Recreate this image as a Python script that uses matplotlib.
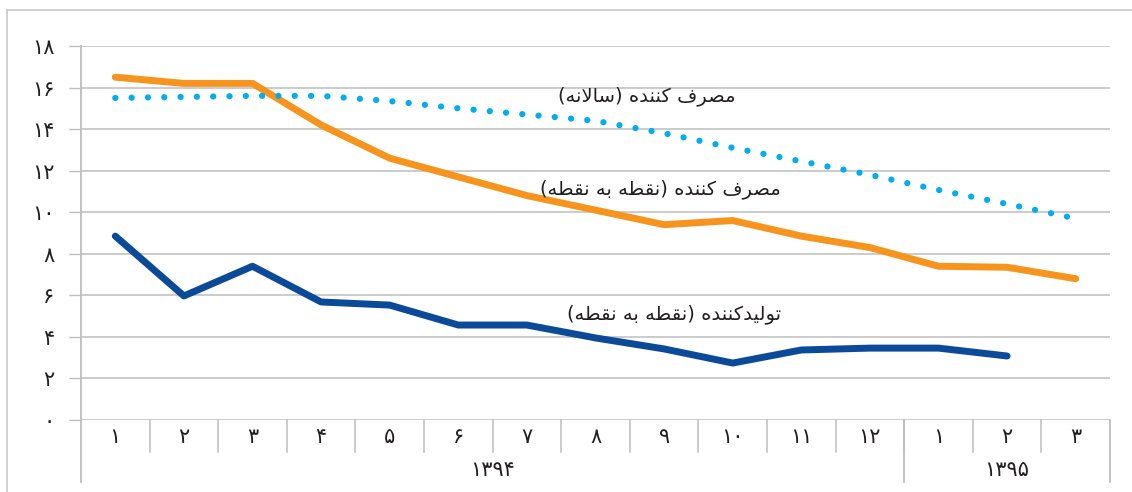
import matplotlib
matplotlib.use("Agg")
import matplotlib.pyplot as plt
from matplotlib.lines import Line2D
import numpy as np

# ---------------- data ----------------
month_labels = ["۱", "۲", "۳", "۴", "۵", "۶", "۷", "۸", "۹", "۱۰", "۱۱", "۱۲", "۱", "۲", "۳"]
year_labels = ["۱۳۹۴", "۱۳۹۵"]
year_sizes = [12, 3]
y_ticks = [0, 2, 4, 6, 8, 10, 12, 14, 16, 18]
y_tick_labels = ["۰", "۲", "۴", "۶", "۸", "۱۰", "۱۲", "۱۴", "۱۶", "۱۸"]

consumer_p2p = [16.5, 16.2, 16.2, 14.2, 12.6, 11.7, 10.8, 10.1, 9.4, 9.6, 8.85, 8.3, 7.4, 7.35, 6.8]
consumer_annual = [15.5, 15.55, 15.6, 15.6, 15.35, 15.0, 14.7, 14.4, 13.8, 13.1, 12.45, 11.8, 11.07, 10.4, 9.7]
producer_p2p = [8.85, 5.97, 7.4, 5.68, 5.53, 4.57, 4.57, 3.95, 3.42, 2.74, 3.37, 3.46, 3.46, 3.08]

label_annual = "مصرف کننده (سالانه)"
label_cons = "مصرف کننده (نقطه به نقطه)"
label_prod = "تولیدکننده (نقطه به نقطه)"

# ---------------- minimal Persian shaping ----------------
FORMS = {
    'ا': ('\uFE8D', '\uFE8E', None, None),
    'ب': ('\uFE8F', '\uFE90', '\uFE91', '\uFE92'),
    'ت': ('\uFE95', '\uFE96', '\uFE97', '\uFE98'),
    'د': ('\uFEA9', '\uFEAA', None, None),
    'ر': ('\uFEAD', '\uFEAE', None, None),
    'س': ('\uFEB1', '\uFEB2', '\uFEB3', '\uFEB4'),
    'ص': ('\uFEB9', '\uFEBA', '\uFEBB', '\uFEBC'),
    'ط': ('\uFEC1', '\uFEC2', '\uFEC3', '\uFEC4'),
    'ف': ('\uFED1', '\uFED2', '\uFED3', '\uFED4'),
    'ق': ('\uFED5', '\uFED6', '\uFED7', '\uFED8'),
    'ک': ('\uFB8E', '\uFB8F', '\uFB90', '\uFB91'),
    'ل': ('\uFEDD', '\uFEDE', '\uFEDF', '\uFEE0'),
    'م': ('\uFEE1', '\uFEE2', '\uFEE3', '\uFEE4'),
    'ن': ('\uFEE5', '\uFEE6', '\uFEE7', '\uFEE8'),
    'ه': ('\uFEE9', '\uFEEA', '\uFEEB', '\uFEEC'),
    'و': ('\uFEED', '\uFEEE', None, None),
    'ی': ('\uFBFC', '\uFBFD', '\uFBFE', '\uFBFF'),
}


def shape(text):
    toks = []
    i = 0
    while i < len(text):
        if text[i] == 'ل' and i + 1 < len(text) and text[i + 1] == 'ا':
            toks.append('LA')
            i += 2
        else:
            toks.append(text[i])
            i += 1

    def is_letter(t):
        return t == 'LA' or t in FORMS

    def dual(t):
        return t in FORMS and FORMS[t][2] is not None

    out = []
    for k, t in enumerate(toks):
        prev = toks[k - 1] if k > 0 else None
        nxt = toks[k + 1] if k + 1 < len(toks) else None
        jp = prev is not None and dual(prev)
        if t == 'LA':
            out.append('\uFEFC' if jp else '\uFEFB')
            continue
        if t not in FORMS:
            out.append(t)
            continue
        jn = dual(t) and nxt is not None and is_letter(nxt)
        iso, fin, ini, med = FORMS[t]
        if jp and jn:
            out.append(med)
        elif jp:
            out.append(fin)
        elif jn:
            out.append(ini)
        else:
            out.append(iso)
    vis = ''.join(out)[::-1]
    mirror = {'(': ')', ')': '('}
    return ''.join(mirror.get(c, c) for c in vis)


# ---------------- figure ----------------
W, H = 1132, 492
fig = plt.figure(figsize=(W / 100, H / 100), dpi=100)
fig.patch.set_facecolor("white")

L, R, T, B = 81, 1110, 46, 420
ax = fig.add_axes([L / W, 1 - B / H, (R - L) / W, (B - T) / H])

grid_c = "#BDBDBD"
txt_c = "#231F20"
x = np.arange(len(month_labels))

ax.plot(x, consumer_p2p, color="#F7941D", lw=5.0, solid_capstyle="round", solid_joinstyle="round", zorder=3)
ax.plot(x, consumer_annual, color="#00AEEF", lw=4.5, linestyle=(0, (0.01, 2.6)),
        dash_capstyle="round", zorder=3)
ax.plot(np.arange(len(producer_p2p)), producer_p2p, color="#0B4A99", lw=5.0,
        solid_capstyle="round", solid_joinstyle="round", zorder=3)

ax.set_xlim(-0.5, len(month_labels) - 0.5)
ax.set_ylim(0, 18)
ax.set_yticks(y_ticks)
ax.set_yticklabels(y_tick_labels, fontsize=15, family=["DejaVu Sans"], color=txt_c)
ax.tick_params(axis="y", length=9, width=1, color=grid_c, pad=10, direction="out")
ax.set_xticks([])
ax.grid(axis="y", color=grid_c, lw=1.1)
ax.set_axisbelow(True)
for s in ["top", "right", "bottom"]:
    ax.spines[s].set_visible(False)
ax.spines["left"].set_color(grid_c)
ax.spines["left"].set_linewidth(1.3)

# two-level category axis
trans = ax.get_xaxis_transform()
short_h = (452 - B) / (B - T)
long_h = (482 - B) / (B - T)
for i, lab in enumerate(month_labels):
    ax.text(i, -(437 - B) / (B - T), lab, transform=trans, ha="center", va="center",
            fontsize=15, color=txt_c, family=["DejaVu Sans"])
bounds = np.cumsum([0] + year_sizes) - 0.5
for i in range(1, len(month_labels)):
    ax.add_line(Line2D([i - 0.5, i - 0.5], [0, -short_h], transform=trans, color=grid_c,
                       lw=1.1, clip_on=False))
for b in bounds:
    ax.add_line(Line2D([b, b], [0, -long_h], transform=trans, color=grid_c,
                       lw=1.3, clip_on=False))
start = 0
for lab, n in zip(year_labels, year_sizes):
    cx = start + (n - 1) / 2
    ax.text(cx, -(470 - B) / (B - T), lab, transform=trans, ha="center", va="center",
            fontsize=15, color=txt_c, family=["DejaVu Sans"])
    start += n

# series labels
ax.text(7.75, 15.6, shape(label_annual), ha="center", va="center", fontsize=14,
        color=txt_c, family=["DejaVu Sans"])
ax.text(7.95, 11.13, shape(label_cons), ha="center", va="center", fontsize=14,
        color=txt_c, family=["DejaVu Sans"])
ax.text(8.15, 5.1, shape(label_prod), ha="center", va="center", fontsize=14,
        color=txt_c, family=["DejaVu Sans"])

# outer chart frame (partial)
fig.add_artist(Line2D([7 / W, 7 / W], [0, 1 - 10 / H], transform=fig.transFigure, color="#C8C8C8", lw=1.2))
fig.add_artist(Line2D([7 / W, 1], [1 - 10 / H, 1 - 10 / H], transform=fig.transFigure, color="#C8C8C8", lw=1.2))

fig.savefig("out.png", dpi=100, facecolor="white")
